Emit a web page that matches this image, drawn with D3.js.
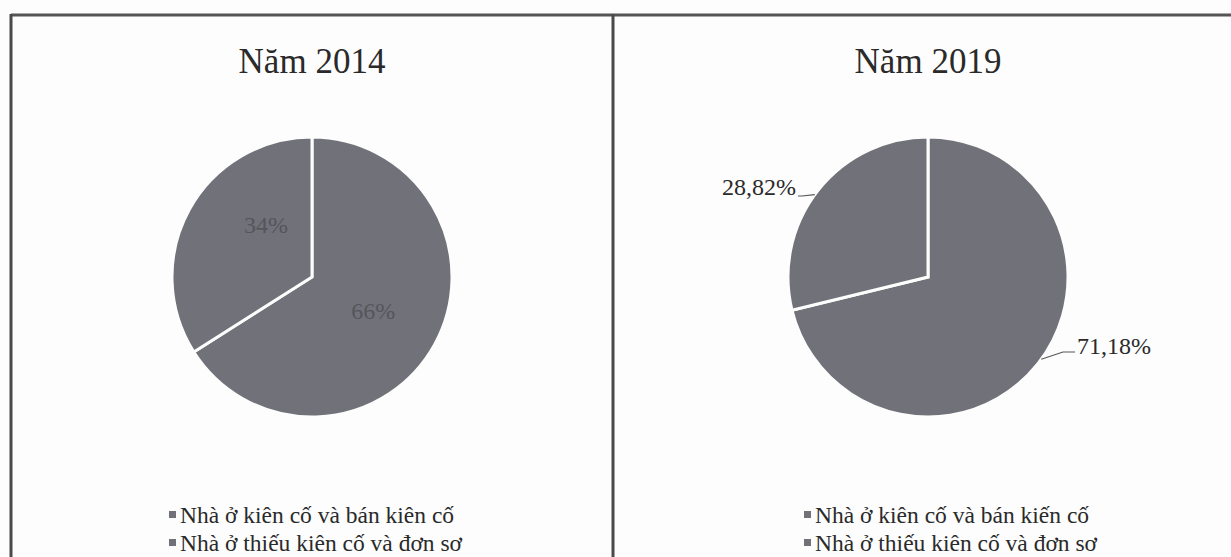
<!DOCTYPE html>
<html>
<head>
<meta charset="utf-8">
<script src="https://cdn.jsdelivr.net/npm/d3@7"></script>
<style>
  body { margin: 0; background: #fdfdfd; }
  text { font-family: "Liberation Serif", "Times New Roman", serif; }
</style>
</head>
<body>
<div id="chart"></div>
<script>
// Data
const years = ["Năm 2014", "Năm 2019"];
const categories = ["Nhà ở kiên cố và bán kiên cố", "Nhà ở thiếu kiên cố và đơn sơ"];
const values2014 = [66, 34];
const values2019 = [71.18, 28.82];
const labels2014 = ["66%", "34%"];
const labels2019 = ["71,18%", "28,82%"];
const legend2019 = ["Nhà ở kiên cố và bán kiến cố", "Nhà ở thiếu kiên cố và đơn sơ"];

const width = 1231, height = 557;
const fill = "#717179";

const svg = d3.select("#chart")
    .append("svg")
    .attr("width", width)
    .attr("height", height);

svg.append("rect")
    .attr("width", width)
    .attr("height", height)
    .attr("fill", "#fdfdfd");

// Panel frames
svg.append("line")
    .attr("x1", 11).attr("x2", width).attr("y1", 15).attr("y2", 15)
    .attr("stroke", "#555").attr("stroke-width", 3);
[11, 613].forEach(function(x) {
    svg.append("line")
        .attr("x1", x).attr("x2", x).attr("y1", 14).attr("y2", height)
        .attr("stroke", "#4a4a4a").attr("stroke-width", 3);
});

const radius = 140;
const pie = d3.pie().sort(null);
const arc = d3.arc().innerRadius(0).outerRadius(radius);

const panels = [
    {title: years[0], values: values2014, labels: labels2014, legend: categories, cx: 312, inside: true, legendX: 169},
    {title: years[1], values: values2019, labels: labels2019, legend: legend2019, cx: 928, inside: false, legendX: 804}
];

panels.forEach(function(p) {
    const cy = 277;

    svg.append("text")
        .attr("x", p.cx)
        .attr("y", 73)
        .attr("text-anchor", "middle")
        .attr("font-size", 35)
        .attr("fill", "#2a2a2a")
        .text(p.title);

    const g = svg.append("g")
        .attr("transform", `translate(${p.cx}, ${cy})`);

    const arcs = pie(p.values);

    g.selectAll("path")
        .data(arcs)
        .join("path")
        .attr("d", arc)
        .attr("fill", fill)
        .attr("stroke", "#fdfdfd")
        .attr("stroke-width", 3);

    if (p.inside) {
        // label positions nudged like the best-fit placement of the original
        const shift = [0, 0.35];
        g.selectAll("text.lbl")
            .data(arcs)
            .join("text")
            .attr("class", "lbl")
            .attr("transform", function(d, i) {
                const m = (d.startAngle + d.endAngle) / 2 + shift[i];
                const c = arc.centroid({startAngle: m, endAngle: m});
                return `translate(${c})`;
            })
            .attr("text-anchor", "middle")
            .attr("dy", "0.35em")
            .attr("font-size", 24)
            .attr("fill", "#55555c")
            .text(function(d, i) { return p.labels[i]; });
    } else {
        // outside labels with leader lines
        const spots = [
            {angle: 126, tx: 1077 - p.cx, ty: 352 - cy, anchor: "start", hook: 1063 - p.cx},
            {angle: 306, tx: 796 - p.cx, ty: 196 - cy, anchor: "end", hook: 802 - p.cx}
        ];
        arcs.forEach(function(d, i) {
            const s = spots[i];
            const a = s.angle * Math.PI / 180;
            const ex = Math.sin(a) * radius, ey = -Math.cos(a) * radius;
            g.append("path")
                .attr("d", d3.line()([[ex, ey], [s.hook, s.ty], [s.anchor === "start" ? s.tx - 2 : s.tx + 2, s.ty]]))
                .attr("fill", "none")
                .attr("stroke", "#555")
                .attr("stroke-width", 1.2);
            g.append("text")
                .attr("x", s.tx)
                .attr("y", s.ty)
                .attr("dy", s.anchor === "end" ? "-0.05em" : "0.1em")
                .attr("text-anchor", s.anchor)
                .attr("font-size", 24)
                .attr("fill", "#2a2a2a")
                .text(p.labels[i]);
        });
    }

    // Legend
    const lg = svg.append("g")
        .attr("transform", `translate(${p.legendX}, 515)`);
    const row = lg.selectAll("g")
        .data(p.legend)
        .join("g")
        .attr("transform", function(d, i) { return `translate(0, ${i * 28})`; });
    row.append("rect")
        .attr("x", 0).attr("y", -4)
        .attr("width", 7).attr("height", 7)
        .attr("fill", fill);
    row.append("text")
        .attr("x", 11)
        .attr("dy", "0.35em")
        .attr("font-size", 23.5)
        .attr("fill", "#2a2a2a")
        .text(function(d) { return d; });
});
</script>
</body>
</html>
